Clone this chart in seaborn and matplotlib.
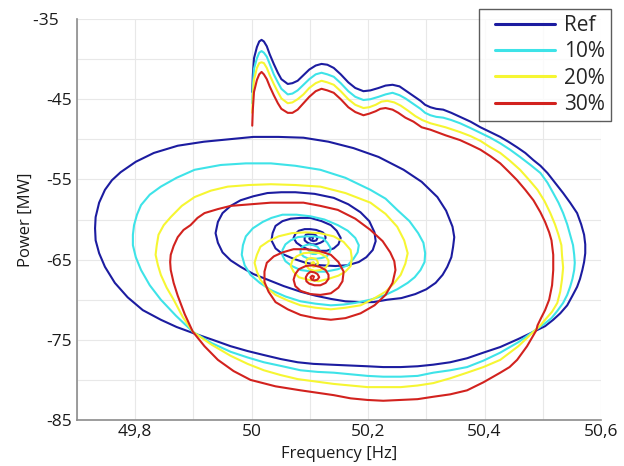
import matplotlib
matplotlib.use("Agg")
import matplotlib.pyplot as plt
from matplotlib.lines import Line2D
from matplotlib.legend_handler import HandlerLine2D
import seaborn as sns
import pandas as pd

# ---------------- data ----------------
ref_freq = [50.001, 50.002, 50.004, 50.009, 50.013, 50.017, 50.021, 50.026, 50.031, 50.038,
            50.045, 50.051, 50.062, 50.070, 50.079, 50.089, 50.099, 50.110, 50.120, 50.130,
            50.141, 50.153, 50.166, 50.178, 50.192, 50.204, 50.218, 50.230, 50.242, 50.254,
            50.264, 50.276, 50.290, 50.298, 50.307, 50.317, 50.329, 50.343, 50.358, 50.376,
            50.393, 50.410, 50.427, 50.441, 50.456, 50.470, 50.484, 50.496, 50.508, 50.521,
            50.535, 50.547, 50.559, 50.566, 50.571, 50.573, 50.573, 50.571, 50.568, 50.564,
            50.559, 50.551, 50.542, 50.530, 50.518, 50.504, 50.487, 50.458, 50.427, 50.398,
            50.370, 50.341, 50.312, 50.285, 50.256, 50.226, 50.199, 50.166, 50.136, 50.106,
            50.079, 50.050, 50.021, 49.993, 49.964, 49.933, 49.901, 49.871, 49.844, 49.813,
            49.787, 49.765, 49.748, 49.738, 49.732, 49.731, 49.732, 49.738, 49.748, 49.760,
            49.775, 49.801, 49.832, 49.873, 49.918, 49.961, 50.003, 50.046, 50.089, 50.132,
            50.175, 50.218, 50.261, 50.292, 50.319, 50.334, 50.345, 50.348, 50.346, 50.343,
            50.336, 50.328, 50.316, 50.300, 50.281, 50.257, 50.233, 50.209, 50.187, 50.161,
            50.136, 50.110, 50.084, 50.055, 50.027, 50.003, 49.981, 49.964, 49.950, 49.942,
            49.938, 49.942, 49.950, 49.964, 49.981, 50.003, 50.027, 50.051, 50.075, 50.108,
            50.141, 50.166, 50.187, 50.202, 50.211, 50.213, 50.208, 50.197, 50.184, 50.165,
            50.144, 50.118, 50.093, 50.072, 50.053, 50.041, 50.034, 50.036, 50.041, 50.053,
            50.067, 50.084, 50.101, 50.120, 50.136, 50.146, 50.153, 50.149, 50.141, 50.129,
            50.115, 50.099, 50.087, 50.077, 50.072, 50.075, 50.081, 50.091, 50.101, 50.111,
            50.122, 50.126, 50.127, 50.123, 50.118, 50.110, 50.103, 50.096, 50.091, 50.091,
            50.093, 50.098, 50.105, 50.111, 50.113, 50.111, 50.106, 50.102, 50.099, 50.100,
            50.103, 50.105, 50.105]
ref_power = [-44.1, -42.0, -39.9, -38.5, -37.8, -37.6, -37.8, -38.4, -39.4, -40.6,
             -41.7, -42.5, -43.1, -43.0, -42.7, -42.0, -41.3, -40.8, -40.6, -40.7,
             -41.1, -41.9, -42.9, -43.6, -44.0, -43.9, -43.6, -43.3, -43.2, -43.4,
             -43.9, -44.5, -45.2, -45.7, -46.0, -46.2, -46.3, -46.7, -47.2, -47.8,
             -48.5, -49.1, -49.7, -50.3, -51.0, -51.7, -52.6, -53.3, -54.2, -55.4,
             -56.7, -57.9, -59.2, -60.6, -61.9, -63.1, -64.2, -65.3, -66.3, -67.4,
             -68.4, -69.5, -70.7, -71.7, -72.5, -73.3, -73.9, -74.9, -75.9, -76.6,
             -77.3, -77.8, -78.1, -78.3, -78.4, -78.4, -78.3, -78.2, -78.1, -78.0,
             -77.8, -77.4, -76.9, -76.4, -75.8, -75.0, -74.2, -73.4, -72.5, -71.3,
             -69.7, -67.9, -65.9, -64.2, -62.6, -61.1, -59.7, -57.9, -56.3, -55.1,
             -54.1, -52.8, -51.7, -50.8, -50.3, -50.0, -49.7, -49.7, -49.8, -50.3,
             -51.1, -52.2, -53.8, -55.3, -57.2, -58.9, -60.9, -62.2, -63.4, -64.7,
             -65.9, -66.9, -67.9, -68.7, -69.3, -69.8, -70.0, -70.3, -70.3, -70.2,
             -69.9, -69.5, -69.0, -68.3, -67.5, -66.8, -65.9, -65.1, -64.1, -62.9,
             -61.7, -60.3, -59.2, -58.3, -57.6, -57.1, -56.7, -56.6, -56.6, -56.8,
             -57.3, -58.1, -59.1, -60.2, -61.6, -62.7, -63.8, -64.7, -65.3, -65.7,
             -65.8, -65.7, -65.4, -64.9, -64.3, -63.6, -62.6, -61.7, -60.8, -60.2,
             -59.9, -59.8, -59.8, -60.2, -60.7, -61.4, -62.3, -63.1, -63.6, -63.9,
             -63.9, -63.8, -63.4, -62.9, -62.3, -61.8, -61.4, -61.2, -61.2, -61.3,
             -61.6, -61.9, -62.3, -62.7, -62.9, -63.1, -63.1, -62.9, -62.6, -62.2,
             -61.9, -61.8, -61.8, -62.0, -62.3, -62.6, -62.7, -62.6, -62.4, -62.2,
             -62.2, -62.2, -62.4]

p10_freq = [50.001, 50.002, 50.004, 50.009, 50.013, 50.017, 50.021, 50.026, 50.031, 50.038,
            50.045, 50.051, 50.062, 50.070, 50.079, 50.089, 50.099, 50.110, 50.120, 50.130,
            50.141, 50.153, 50.166, 50.178, 50.192, 50.204, 50.218, 50.230, 50.242, 50.254,
            50.264, 50.276, 50.290, 50.298, 50.307, 50.317, 50.329, 50.343, 50.358, 50.376,
            50.393, 50.410, 50.427, 50.444, 50.461, 50.479, 50.496, 50.508, 50.518, 50.527,
            50.535, 50.542, 50.547, 50.552, 50.554, 50.555, 50.554, 50.551, 50.547, 50.542,
            50.535, 50.525, 50.515, 50.503, 50.487, 50.458, 50.427, 50.398, 50.370, 50.341,
            50.312, 50.285, 50.256, 50.226, 50.199, 50.170, 50.141, 50.113, 50.084, 50.053,
            50.021, 49.993, 49.964, 49.931, 49.899, 49.870, 49.844, 49.825, 49.810, 49.801,
            49.796, 49.796, 49.798, 49.803, 49.810, 49.825, 49.844, 49.871, 49.902, 49.925,
            49.947, 49.990, 50.033, 50.075, 50.118, 50.161, 50.204, 50.230, 50.250, 50.271,
            50.286, 50.295, 50.298, 50.297, 50.290, 50.280, 50.268, 50.250, 50.230, 50.204,
            50.178, 50.158, 50.136, 50.110, 50.084, 50.058, 50.033, 50.014, 49.998, 49.988,
            49.983, 49.985, 49.990, 50.002, 50.019, 50.034, 50.053, 50.077, 50.101, 50.125,
            50.148, 50.165, 50.178, 50.184, 50.182, 50.175, 50.165, 50.148, 50.127, 50.105,
            50.084, 50.069, 50.058, 50.053, 50.053, 50.058, 50.067, 50.079, 50.093, 50.108,
            50.122, 50.130, 50.136, 50.134, 50.129, 50.120, 50.110, 50.098, 50.089, 50.084,
            50.084, 50.087, 50.093, 50.099, 50.106, 50.113, 50.117, 50.115, 50.110, 50.105,
            50.101, 50.099, 50.102, 50.105, 50.103]
p10_power = [-45.5, -43.4, -41.2, -39.9, -39.2, -39.0, -39.2, -39.7, -40.6, -41.9,
             -42.9, -43.7, -44.4, -44.3, -43.9, -43.2, -42.5, -41.9, -41.7, -41.9,
             -42.2, -43.0, -44.0, -44.7, -45.1, -45.0, -44.7, -44.4, -44.2, -44.5,
             -44.9, -45.5, -46.2, -46.7, -47.0, -47.2, -47.3, -47.6, -48.0, -48.6,
             -49.2, -49.8, -50.5, -51.3, -52.2, -53.2, -54.2, -55.4, -56.7, -57.9,
             -59.2, -60.6, -61.9, -63.2, -64.4, -65.4, -66.3, -67.4, -68.4, -69.4,
             -70.4, -71.4, -72.3, -73.0, -73.8, -75.3, -76.6, -77.6, -78.4, -78.8,
             -79.1, -79.5, -79.6, -79.6, -79.5, -79.3, -79.1, -79.0, -78.8, -78.3,
             -77.8, -77.2, -76.5, -75.4, -74.0, -72.0, -70.0, -68.2, -66.3, -64.7,
             -63.2, -61.9, -60.7, -59.4, -58.2, -56.9, -55.9, -54.8, -53.8, -53.5,
             -53.2, -53.0, -53.0, -53.3, -53.8, -54.8, -56.3, -57.4, -58.8, -60.2,
             -61.7, -62.9, -64.2, -65.3, -66.3, -67.2, -67.9, -68.7, -69.4, -70.0,
             -70.4, -70.6, -70.7, -70.5, -70.2, -69.6, -68.8, -67.9, -66.9, -65.7,
             -64.4, -63.2, -62.1, -61.1, -60.3, -59.8, -59.4, -59.4, -59.6, -60.0,
             -60.7, -61.4, -62.3, -63.2, -64.1, -64.9, -65.7, -66.2, -66.5, -66.5,
             -66.3, -65.8, -65.2, -64.5, -63.8, -63.1, -62.6, -62.2, -62.1, -62.1,
             -62.3, -62.9, -63.6, -64.1, -64.6, -64.8, -64.9, -64.9, -64.6, -64.2,
             -63.8, -63.4, -63.2, -63.1, -63.2, -63.4, -63.8, -64.1, -64.3, -64.3,
             -64.2, -63.9, -63.7, -63.8, -63.9]

p20_freq = [50.001, 50.002, 50.004, 50.009, 50.013, 50.017, 50.021, 50.026, 50.031, 50.038,
            50.045, 50.051, 50.062, 50.070, 50.079, 50.089, 50.099, 50.110, 50.120, 50.130,
            50.141, 50.153, 50.166, 50.178, 50.192, 50.202, 50.213, 50.223, 50.233, 50.245,
            50.256, 50.268, 50.281, 50.293, 50.307, 50.333, 50.358, 50.376, 50.393, 50.410,
            50.427, 50.444, 50.461, 50.477, 50.491, 50.503, 50.513, 50.521, 50.527, 50.532,
            50.533, 50.535, 50.533, 50.530, 50.525, 50.516, 50.504, 50.496, 50.487, 50.458,
            50.427, 50.398, 50.370, 50.341, 50.312, 50.285, 50.256, 50.226, 50.199, 50.170,
            50.141, 50.110, 50.079, 50.050, 50.021, 49.993, 49.964, 49.931, 49.899, 49.882,
            49.866, 49.854, 49.844, 49.839, 49.835, 49.837, 49.840, 49.849, 49.861, 49.880,
            49.902, 49.930, 49.959, 49.995, 50.033, 50.075, 50.118, 50.161, 50.204, 50.230,
            50.250, 50.262, 50.268, 50.264, 50.256, 50.244, 50.230, 50.209, 50.187, 50.161,
            50.136, 50.110, 50.084, 50.062, 50.041, 50.026, 50.015, 50.009, 50.005, 50.009,
            50.015, 50.029, 50.046, 50.069, 50.093, 50.117, 50.141, 50.158, 50.170, 50.172,
            50.170, 50.161, 50.149, 50.132, 50.115, 50.096, 50.081, 50.072, 50.067, 50.070,
            50.077, 50.089, 50.105, 50.117, 50.127, 50.132, 50.132, 50.127, 50.118, 50.108,
            50.099, 50.094, 50.093, 50.096, 50.103, 50.110, 50.113, 50.114, 50.111, 50.106,
            50.103, 50.103, 50.106, 50.108, 50.106]
p20_power = [-46.7, -44.7, -42.6, -41.1, -40.5, -40.4, -40.5, -41.1, -42.0, -43.1,
             -44.1, -44.9, -45.5, -45.4, -45.0, -44.4, -43.6, -43.0, -42.7, -42.9,
             -43.2, -44.0, -45.0, -45.7, -46.1, -46.0, -45.7, -45.3, -45.2, -45.4,
             -45.8, -46.4, -47.1, -47.6, -48.0, -48.5, -49.1, -49.6, -50.2, -51.0,
             -51.7, -52.7, -53.8, -55.1, -56.3, -57.7, -59.2, -60.6, -61.9, -63.2,
             -64.4, -66.0, -67.5, -69.0, -70.4, -71.5, -72.5, -73.2, -73.8, -75.8,
             -77.5, -78.4, -79.1, -79.8, -80.4, -80.7, -80.9, -80.9, -80.9, -80.7,
             -80.5, -80.2, -79.9, -79.4, -78.8, -78.0, -77.0, -75.6, -74.0, -72.2,
             -70.0, -68.5, -66.9, -65.7, -64.4, -63.2, -61.9, -60.7, -59.7, -58.3,
             -57.2, -56.4, -55.9, -55.7, -55.6, -55.7, -55.9, -56.7, -57.9, -59.3,
             -60.9, -62.6, -64.2, -65.5, -66.9, -68.0, -69.0, -69.9, -70.7, -71.0,
             -71.2, -71.0, -70.7, -70.1, -69.4, -68.5, -67.5, -66.5, -65.4, -64.4,
             -63.4, -62.7, -62.1, -61.7, -61.6, -61.7, -62.1, -62.8, -63.8, -64.8,
             -65.8, -66.5, -67.0, -67.4, -67.7, -67.5, -67.2, -66.5, -65.8, -65.1,
             -64.6, -64.2, -64.1, -64.2, -64.6, -65.1, -65.5, -66.0, -66.3, -66.4,
             -66.2, -65.8, -65.3, -64.9, -64.8, -64.9, -65.2, -65.5, -65.8, -65.9,
             -65.7, -65.4, -65.3, -65.5, -65.5]

p30_freq = [50.001, 50.002, 50.004, 50.009, 50.013, 50.017, 50.021, 50.026, 50.031, 50.038,
            50.045, 50.051, 50.062, 50.070, 50.079, 50.089, 50.099, 50.110, 50.120, 50.130,
            50.141, 50.153, 50.166, 50.178, 50.192, 50.202, 50.213, 50.221, 50.230, 50.242,
            50.252, 50.264, 50.278, 50.292, 50.307, 50.333, 50.358, 50.376, 50.393, 50.410,
            50.427, 50.441, 50.456, 50.470, 50.484, 50.496, 50.504, 50.511, 50.515, 50.518,
            50.518, 50.516, 50.511, 50.504, 50.497, 50.491, 50.489, 50.473, 50.456, 50.443,
            50.427, 50.398, 50.370, 50.341, 50.312, 50.285, 50.256, 50.226, 50.199, 50.170,
            50.141, 50.113, 50.084, 50.041, 49.998, 49.969, 49.942, 49.919, 49.899, 49.885,
            49.873, 49.866, 49.861, 49.860, 49.861, 49.866, 49.873, 49.883, 49.895, 49.907,
            49.919, 49.942, 49.964, 49.998, 50.033, 50.062, 50.089, 50.118, 50.148, 50.178,
            50.204, 50.225, 50.238, 50.245, 50.247, 50.242, 50.230, 50.211, 50.187, 50.161,
            50.136, 50.110, 50.084, 50.062, 50.041, 50.029, 50.022, 50.022, 50.026, 50.038,
            50.053, 50.072, 50.093, 50.115, 50.136, 50.149, 50.158, 50.156, 50.149, 50.136,
            50.118, 50.101, 50.084, 50.075, 50.072, 50.075, 50.081, 50.093, 50.105, 50.117,
            50.127, 50.132, 50.132, 50.127, 50.118, 50.108, 50.099, 50.094, 50.093, 50.096,
            50.101, 50.108, 50.113, 50.116, 50.113, 50.108, 50.103, 50.101, 50.104, 50.107,
            50.106]
p30_power = [-48.3, -46.3, -44.1, -42.6, -41.9, -41.6, -41.9, -42.5, -43.4, -44.5,
             -45.5, -46.2, -46.7, -46.7, -46.3, -45.5, -44.7, -44.0, -43.7, -43.9,
             -44.2, -45.0, -46.0, -46.6, -47.0, -46.8, -46.5, -46.2, -46.1, -46.3,
             -46.7, -47.3, -47.8, -48.5, -48.8, -49.5, -50.1, -50.7, -51.3, -52.1,
             -53.0, -54.0, -55.1, -56.3, -57.6, -59.1, -60.3, -61.6, -62.6, -64.4,
             -66.3, -68.2, -70.0, -71.3, -72.3, -73.2, -73.8, -75.8, -77.5, -78.4,
             -79.1, -80.3, -81.3, -81.8, -82.1, -82.4, -82.5, -82.6, -82.5, -82.3,
             -81.9, -81.6, -81.3, -80.8, -80.0, -78.9, -77.5, -75.8, -74.0, -71.8,
             -69.5, -67.9, -66.3, -65.3, -64.4, -63.3, -62.2, -61.3, -60.7, -59.8,
             -59.2, -58.7, -58.3, -58.1, -57.9, -57.9, -57.9, -58.3, -58.8, -59.9,
             -61.3, -62.7, -64.1, -65.2, -66.3, -67.9, -69.4, -70.7, -71.7, -72.3,
             -72.5, -72.3, -71.9, -71.2, -70.3, -69.0, -67.8, -66.5, -65.4, -64.6,
             -64.1, -63.7, -63.7, -63.9, -64.4, -65.3, -66.5, -67.7, -68.5, -69.2,
             -69.4, -69.3, -68.9, -68.3, -67.5, -66.8, -66.2, -65.8, -65.7, -65.9,
             -66.3, -66.9, -67.4, -67.9, -68.2, -68.2, -68.0, -67.7, -67.2, -66.8,
             -66.5, -66.6, -66.8, -67.2, -67.5, -67.6, -67.5, -67.2, -67.0, -67.1,
             -67.3]

series_names = ["Ref", "10%", "20%", "30%"]
series_colors = ["#1c1ca0", "#3ee3e8", "#f6f632", "#d2221e"]

x_ticks = [49.7, 49.8, 49.9, 50.0, 50.1, 50.2, 50.3, 50.4, 50.5, 50.6]
x_tick_labels = ["", "49,8", "", "50", "", "50,2", "", "50,4", "", "50,6"]
y_ticks = [-85, -80, -75, -70, -65, -60, -55, -50, -45, -40, -35]
y_tick_labels = ["-85", "", "-75", "", "-65", "", "-55", "", "-45", "", "-35   "]

# ---------------- build long table ----------------
frames = []
for name, fx, py in zip(series_names,
                        [ref_freq, p10_freq, p20_freq, p30_freq],
                        [ref_power, p10_power, p20_power, p30_power]):
    frames.append(pd.DataFrame({"Frequency": fx, "Power": py, "Series": name}))
df = pd.concat(frames, ignore_index=True)

# ---------------- plot ----------------
sns.set_theme(style="white")
plt.rcParams["font.family"] = ["Open Sans", "DejaVu Sans"]

fig = plt.figure(figsize=(6.24, 4.66), dpi=100)
ax = fig.add_axes([0.1234, 0.0987, 0.8397, 0.8605])

sns.lineplot(data=df, x="Frequency", y="Power", hue="Series", hue_order=series_names,
             palette=series_colors, sort=False, estimator=None, units="Series",
             linewidth=1.5, ax=ax, legend=False)

ax.set_xlim(49.7, 50.6)
ax.set_ylim(-85, -35)
ax.set_xticks(x_ticks)
ax.set_xticklabels(x_tick_labels)
ax.set_yticks(y_ticks)
ax.set_yticklabels(y_tick_labels)
ax.grid(True, color="#e8e8e8", linewidth=0.8)
ax.set_axisbelow(True)
for s in ["top", "right"]:
    ax.spines[s].set_visible(False)
for s in ["left", "bottom"]:
    ax.spines[s].set_color("#8c8c8c")
    ax.spines[s].set_linewidth(1.2)
ax.tick_params(axis="both", direction="in", length=4, color="#8c8c8c",
               labelsize=12.5, labelcolor="#1a1a1a")
ax.tick_params(axis="y", pad=3.5)
ax.tick_params(axis="x", pad=3)
ax.set_xlabel("Frequency [Hz]", fontsize=12, color="#1a1a1a", labelpad=4)
ax.set_ylabel("Power [MW]", fontsize=12, color="#1a1a1a", labelpad=-1)

handles = [Line2D([], [], color=c, linewidth=2.2) for c in series_colors]
leg = ax.legend(handles, series_names, loc="upper right", bbox_to_anchor=(1.019, 1.025),
                fontsize=15, frameon=True, fancybox=False, handlelength=3.38,
                handletextpad=0.4, labelspacing=0.25, borderpad=0.3, borderaxespad=0,
                handler_map={Line2D: HandlerLine2D(xpad=0.48)})
leg.get_frame().set_edgecolor("#333333")
leg.get_frame().set_linewidth(1.0)

fig.savefig("out.png", dpi=100)
